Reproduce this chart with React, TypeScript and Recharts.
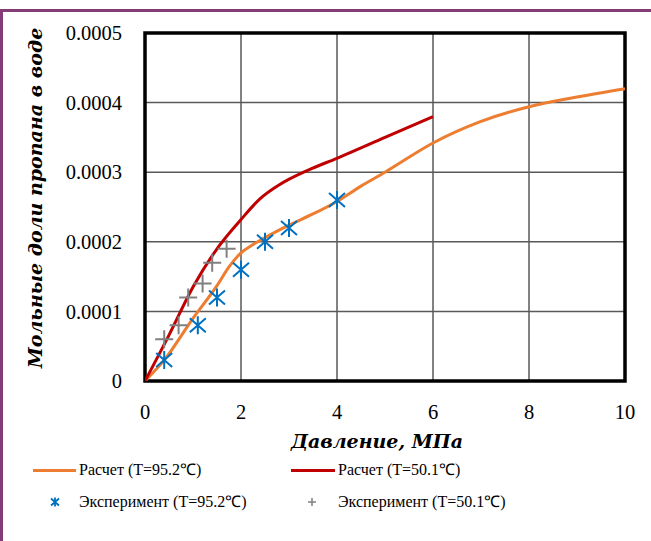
import {
  ComposedChart,
  Line,
  Scatter,
  XAxis,
  YAxis,
  CartesianGrid,
  ReferenceArea,
} from "recharts";

// Расчет (T=95.2℃)
const calc95Pressure = [0, 0.4, 1, 1.5, 1.75, 2, 2.25, 2.5, 3, 3.5, 4, 4.5, 5, 6, 7, 8, 9, 10];
const calc95Fraction = [
  0, 0.00003, 0.00009, 0.000137, 0.000164, 0.000184, 0.000196, 0.000206, 0.000224,
  0.00024, 0.000258, 0.00028, 0.0003, 0.000342, 0.000373, 0.000394, 0.000408,
  0.00042,
];

// Расчет (T=50.1℃)
const calc50Pressure = [0, 0.5, 1, 1.5, 2, 2.4, 2.8, 3.4, 4, 5, 6];
const calc50Fraction = [
  0, 0.000066, 0.000135, 0.00019, 0.000232, 0.000262, 0.000282, 0.000303,
  0.00032, 0.00035, 0.00038,
];

// Эксперимент (T=95.2℃)
const exp95Pressure = [0.4, 1.1, 1.5, 2, 2.5, 3, 4];
const exp95Fraction = [0.00003, 0.00008, 0.00012, 0.00016, 0.0002, 0.00022, 0.00026];

// Эксперимент (T=50.1℃)
const exp50Pressure = [0.4, 0.7, 0.9, 1.2, 1.4, 1.7];
const exp50Fraction = [0.00006, 0.00008, 0.00012, 0.00014, 0.00017, 0.00019];

const xTicks = [0, 2, 4, 6, 8, 10];
const yTicks = [0, 0.0001, 0.0002, 0.0003, 0.0004, 0.0005];

const toPoints = (xs: number[], ys: number[]) =>
  xs.map((x, i) => ({ x, y: ys[i] }));

const calc95 = toPoints(calc95Pressure, calc95Fraction);
const calc50 = toPoints(calc50Pressure, calc50Fraction);
const exp95 = toPoints(exp95Pressure, exp95Fraction);
const exp50 = toPoints(exp50Pressure, exp50Fraction);

const serif = "Liberation Serif, serif";
const titleFont = "DejaVu Serif, serif";

const StarMark = (props: any) => {
  const { cx, cy } = props;
  return (
    <path
      d={`M${cx},${cy - 9}L${cx},${cy + 9}M${cx - 8},${cy - 7}L${cx + 8},${cy + 7}M${cx - 8},${cy + 7}L${cx + 8},${cy - 7}`}
      stroke="#0070C0"
      strokeWidth={2}
      fill="none"
    />
  );
};

const PlusMark = (props: any) => {
  const { cx, cy } = props;
  return (
    <path
      d={`M${cx - 9},${cy}L${cx + 9},${cy}M${cx},${cy - 9}L${cx},${cy + 9}`}
      stroke="#808080"
      strokeWidth={2}
      fill="none"
    />
  );
};

const legendText = {
  position: "absolute" as const,
  fontFamily: serif,
  fontSize: 16,
  color: "#000",
  whiteSpace: "nowrap" as const,
  lineHeight: "20px",
};

export default function App() {
  return (
    <div
      style={{
        position: "fixed",
        left: 0,
        top: 0,
        width: 651,
        height: 541,
        background: "#fff",
        overflow: "hidden",
      }}
    >
      <div
        style={{
          position: "absolute",
          left: 0,
          top: 9,
          width: 700,
          height: 600,
          borderTop: "3px solid #833C78",
          borderLeft: "3px solid #833C78",
        }}
      />
      <div style={{ position: "absolute", left: 0, top: 0 }}>
        <ComposedChart
          width={651}
          height={541}
          margin={{ top: 33, right: 26, bottom: 100, left: 45 }}
        >
          <CartesianGrid stroke="#595959" strokeWidth={1.5} />
          <XAxis
            type="number"
            dataKey="x"
            domain={[0, 10]}
            ticks={xTicks}
            height={60}
            axisLine={false}
            tickLine={false}
            tickSize={0}
            tickMargin={23}
            tick={{ fill: "#000", fontSize: 20.5, fontFamily: serif }}
            allowDataOverflow
          />
          <YAxis
            type="number"
            dataKey="y"
            domain={[0, 0.0005]}
            ticks={yTicks}
            width={100}
            axisLine={false}
            tickLine={false}
            tickSize={0}
            tickMargin={23}
            tick={{ fill: "#000", fontSize: 20.5, fontFamily: serif }}
            tickFormatter={(v: number) => (v === 0 ? "0" : v.toFixed(4))}
            allowDataOverflow
          />
          <ReferenceArea
            x1={0}
            x2={10}
            y1={0}
            y2={0.0005}
            fill="none"
            stroke="#000"
            strokeWidth={3.5}
            ifOverflow="visible"
          />
          <Line
            data={calc95}
            dataKey="y"
            type="monotone"
            stroke="#ED7D31"
            strokeWidth={3}
            dot={false}
            isAnimationActive={false}
          />
          <Line
            data={calc50}
            dataKey="y"
            type="monotone"
            stroke="#C00000"
            strokeWidth={3}
            dot={false}
            isAnimationActive={false}
          />
          <Scatter
            data={exp95}
            dataKey="y"
            shape={StarMark}
            isAnimationActive={false}
          />
          <Scatter
            data={exp50}
            dataKey="y"
            shape={PlusMark}
            isAnimationActive={false}
          />
        </ComposedChart>
      </div>

      <div
        style={{
          position: "absolute",
          left: 35,
          top: 198,
          transform: "translate(-50%, -50%) rotate(-90deg)",
          fontFamily: titleFont,
          fontStyle: "italic",
          fontWeight: "bold",
          fontSize: 19,
          whiteSpace: "nowrap",
        }}
      >
        Мольные доли пропана в воде
      </div>
      <div
        style={{
          position: "absolute",
          left: 377,
          top: 441,
          transform: "translate(-50%, -50%)",
          fontFamily: titleFont,
          fontStyle: "italic",
          fontWeight: "bold",
          fontSize: 19,
          whiteSpace: "nowrap",
        }}
      >
        Давление, МПа
      </div>

      {/* legend */}
      <div style={{ position: "absolute", left: 33, top: 469, width: 43, height: 3, background: "#ED7D31" }} />
      <div style={{ ...legendText, left: 79, top: 460 }}>Расчет (T=95.2℃)</div>
      <div style={{ position: "absolute", left: 291, top: 469, width: 44, height: 3, background: "#C00000" }} />
      <div style={{ ...legendText, left: 338, top: 460 }}>Расчет (T=50.1℃)</div>
      <svg style={{ position: "absolute", left: 48, top: 495 }} width={14} height={14}>
        <path d="M7,2.5L7,11.5M3,3.5L11,10.5M3,10.5L11,3.5" stroke="#0070C0" strokeWidth={1.8} fill="none" />
      </svg>
      <div style={{ ...legendText, left: 79, top: 492 }}>Эксперимент (T=95.2℃)</div>
      <svg style={{ position: "absolute", left: 305, top: 495 }} width={14} height={14}>
        <path d="M3,7L11,7M7,3L7,11" stroke="#808080" strokeWidth={1.5} fill="none" />
      </svg>
      <div style={{ ...legendText, left: 338, top: 492 }}>Эксперимент (T=50.1℃)</div>
    </div>
  );
}
